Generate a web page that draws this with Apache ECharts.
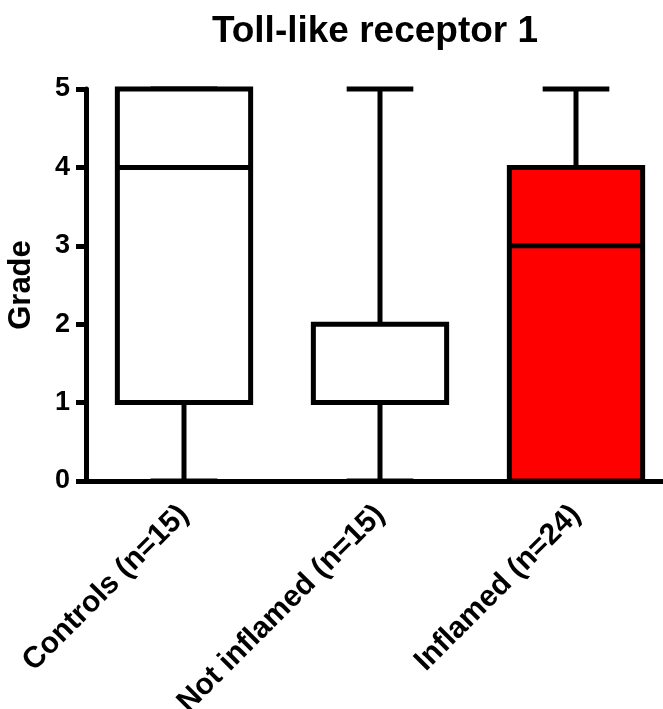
<!DOCTYPE html>
<html>
<head>
<meta charset="utf-8">
<script src="https://cdn.jsdelivr.net/npm/echarts@6/dist/echarts.min.js"></script>
<style>
    html, body { margin: 0; padding: 0; background: #fff; }
    #chart { width: 663px; height: 709px; }
</style>
</head>
<body>
<div id="chart"></div>
<script>
// box plot summary per group (min / Q1 / median / Q3 / max)
const categories = ['Controls (n=15)', 'Not inflamed (n=15)', 'Inflamed (n=24)'];
const minVals = [0, 0, 0];
const q1Vals = [1, 1, 0];
const medianVals = [4, 1, 3];
const q3Vals = [5, 2, 4];
const maxVals = [5, 5, 5];
const boxColors = ['#ffffff', '#ffffff', '#ff0000'];
const yTicks = [0, 1, 2, 3, 4, 5];

const font = '"Liberation Sans", Arial, Helvetica, sans-serif';
const lineW = 5;

const chart = echarts.init(document.getElementById('chart'));

function renderBox(params, api) {
    const i = params.dataIndex;
    const x = api.value(0);
    const pMin = api.coord([x, api.value(1)]);
    const pQ1 = api.coord([x, api.value(2)]);
    const pMed = api.coord([x, api.value(3)]);
    const pQ3 = api.coord([x, api.value(4)]);
    const pMax = api.coord([x, api.value(5)]);
    const bw = api.size([1, 0])[0] * 0.68;
    const cap = bw / 2;
    const cx = pMed[0];
    const stroke = { stroke: '#000', lineWidth: lineW };
    return {
        type: 'group',
        children: [
            { type: 'line', shape: { x1: cx, y1: pMin[1], x2: cx, y2: pQ1[1] }, style: stroke },
            { type: 'line', shape: { x1: cx, y1: pQ3[1], x2: cx, y2: pMax[1] }, style: stroke },
            { type: 'line', shape: { x1: cx - cap / 2, y1: pMax[1], x2: cx + cap / 2, y2: pMax[1] }, style: stroke },
            { type: 'line', shape: { x1: cx - cap / 2, y1: pMin[1], x2: cx + cap / 2, y2: pMin[1] }, style: stroke },
            {
                type: 'rect',
                shape: { x: cx - bw / 2, y: pQ3[1], width: bw, height: pQ1[1] - pQ3[1] },
                style: { fill: boxColors[i], stroke: '#000', lineWidth: lineW, lineJoin: 'miter' }
            },
            { type: 'line', shape: { x1: cx - bw / 2, y1: pMed[1], x2: cx + bw / 2, y2: pMed[1] }, style: stroke }
        ]
    };
}

const option = {
    backgroundColor: '#fff',
    animation: false,
    title: {
        text: 'Toll-like receptor 1',
        left: 370,
        textAlign: 'center',
        top: 8,
        textStyle: { fontFamily: font, fontWeight: 'bold', fontSize: 37, color: '#000' }
    },
    grid: { left: 86, top: 89, width: 588, height: 392, containLabel: false, outerBoundsMode: 'none' },
    xAxis: {
        type: 'category',
        data: categories,
        boundaryGap: true,
        axisLine: { lineStyle: { color: '#000', width: lineW } },
        axisTick: { alignWithLabel: true, length: 10, lineStyle: { color: '#000', width: lineW } },
        axisLabel: {
            rotate: 45,
            margin: 29,
            color: '#000',
            fontFamily: font,
            fontWeight: 'bold',
            fontSize: 30,
            interval: 0
        },
        splitLine: { show: false }
    },
    yAxis: {
        type: 'value',
        min: 0,
        max: 5,
        interval: 1,
        name: 'Grade',
        nameLocation: 'middle',
        nameRotate: 90,
        nameGap: 49,
        nameTextStyle: { fontFamily: font, fontWeight: 'bold', fontSize: 31, color: '#000' },
        axisLine: { show: true, lineStyle: { color: '#000', width: lineW } },
        axisTick: { show: true, length: 10, lineStyle: { color: '#000', width: lineW } },
        axisLabel: {
            margin: 16,
            color: '#000',
            fontFamily: font,
            fontWeight: 'bold',
            fontSize: 27,
            formatter: v => yTicks.includes(v) ? String(v) : ''
        },
        splitLine: { show: false }
    },
    series: [{
        type: 'custom',
        renderItem: renderBox,
        clip: false,
        data: categories.map((c, i) => [i, minVals[i], q1Vals[i], medianVals[i], q3Vals[i], maxVals[i]])
    }]
};

chart.setOption(option);
</script>
</body>
</html>
